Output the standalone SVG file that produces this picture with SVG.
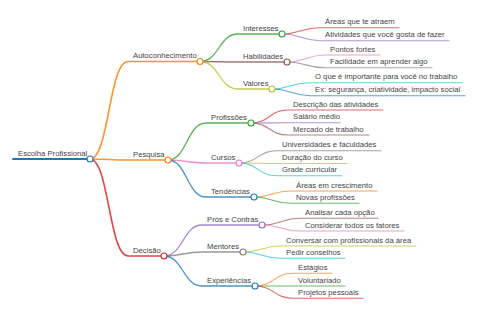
<svg xmlns="http://www.w3.org/2000/svg" width="480" height="320" viewBox="0 0 480 320">
<style>
text{font-family:"Liberation Sans",Arial,sans-serif;font-size:7.7px;fill:#444}
path{fill:none;stroke-linecap:round}
.l0{stroke-width:1.8}.l1{stroke-width:1.6;stroke-opacity:.85}.l2{stroke-width:1.3;stroke-opacity:.8}.l3{stroke-width:1.1;stroke-opacity:.7}
circle{fill:#fff;stroke-width:1.1}
.blue{stroke:#1f77b4}.orange{stroke:#ff7f0e}.green{stroke:#2ca02c}.red{stroke:#d62728}.purple{stroke:#9467bd}.brown{stroke:#8c564b}.pink{stroke:#e377c2}.gray{stroke:#7f7f7f}.olive{stroke:#bcbd22}.cyan{stroke:#17becf}
</style>
<rect width="480" height="320" fill="#fff"/>
<g id="connectors">
<path class="l0 blue" d="M13 159H90"/>
<path class="l1 orange" d="M90 159C109 159 109 61.5 128 61.5H200"/>
<path class="l1 orange" d="M90 159C109 159 109 160 128 160H168"/>
<path class="l1 red" d="M90 159C109 159 109 256 128 256H164"/>
<path class="l2 green" d="M200 61.5C219 61.5 219 34 238 34H282"/>
<path class="l2 brown" d="M200 61.5C219 61.5 219 62 238 62H287"/>
<path class="l2 olive" d="M200 61.5C219 61.5 219 89 238 89H272"/>
<path class="l2 green" d="M168 160C187 160 187 123 206 123H251"/>
<path class="l2 pink" d="M168 160C187 160 187 163 206 163H239"/>
<path class="l2 blue" d="M168 160C187 160 187 197 206 197H254"/>
<path class="l2 purple" d="M164 256C183 256 183 225 202 225H262"/>
<path class="l2 gray" d="M164 256C183 256 183 252 202 252H243"/>
<path class="l2 blue" d="M164 256C183 256 183 286 202 286H255"/>
<path class="l3 red" d="M282 34C301 34 301 27.7 320 27.7H399"/>
<path class="l3 purple" d="M282 34C301 34 301 40.7 320 40.7H449"/>
<path class="l3 pink" d="M287 62C306 62 306 55 325 55H380"/>
<path class="l3 gray" d="M287 62C306 62 306 67.7 325 67.7H432"/>
<path class="l3 cyan" d="M272 89C291 89 291 82.7 310 82.7H462"/>
<path class="l3 blue" d="M272 89C291 89 291 95.7 310 95.7H465"/>
<path class="l3 red" d="M251 123C269.5 123 269.5 110 288 110H383"/>
<path class="l3 purple" d="M251 123C269.5 123 269.5 122.7 288 122.7H340"/>
<path class="l3 brown" d="M251 123C269.5 123 269.5 135 288 135H369"/>
<path class="l3 gray" d="M239 163C258 163 258 150.7 277 150.7H381"/>
<path class="l3 olive" d="M239 163C258 163 258 163.5 277 163.5H347"/>
<path class="l3 cyan" d="M239 163C258 163 258 175.7 277 175.7H342"/>
<path class="l3 orange" d="M254 197C272.5 197 272.5 191 291 191H377"/>
<path class="l3 green" d="M254 197C272.5 197 272.5 203.3 291 203.3H359"/>
<path class="l3 brown" d="M262 225C281 225 281 218.3 300 218.3H378"/>
<path class="l3 pink" d="M262 225C281 225 281 231 300 231H404"/>
<path class="l3 olive" d="M243 252C262 252 262 246 281 246H416"/>
<path class="l3 cyan" d="M243 252C262 252 262 258.3 281 258.3H345"/>
<path class="l3 orange" d="M255 286C274 286 274 273.3 293 273.3H332"/>
<path class="l3 green" d="M255 286C274 286 274 286 293 286H345"/>
<path class="l3 red" d="M255 286C274 286 274 298.3 293 298.3H363"/>
</g>
<g id="root"><text x="18" y="155.5">Escolha Profissional</text><circle class="blue" cx="90" cy="159" r="3"/></g>
<g id="autoconhecimento"><text x="133" y="58">Autoconhecimento</text><circle class="orange" cx="200" cy="61.5" r="3"/></g>
<g id="pesquisa"><text x="133" y="156.5">Pesquisa</text><circle class="orange" cx="168" cy="160" r="3"/></g>
<g id="decisao"><text x="133" y="252.5">Decisão</text><circle class="red" cx="164" cy="256" r="3"/></g>
<g id="interesses"><text x="243" y="30.5">Interesses</text><circle class="green" cx="282" cy="34" r="3"/></g>
<g id="habilidades"><text x="243" y="58.5">Habilidades</text><circle class="brown" cx="287" cy="62" r="3"/></g>
<g id="valores"><text x="243" y="85.5">Valores</text><circle class="olive" cx="272" cy="89" r="3"/></g>
<g id="profissoes"><text x="211" y="119.5">Profissões</text><circle class="green" cx="251" cy="123" r="3"/></g>
<g id="cursos"><text x="211" y="159.5">Cursos</text><circle class="pink" cx="239" cy="163" r="3"/></g>
<g id="tendencias"><text x="211" y="193.5">Tendências</text><circle class="blue" cx="254" cy="197" r="3"/></g>
<g id="pros-contras"><text x="207" y="221.5">Prós e Contras</text><circle class="purple" cx="262" cy="225" r="3"/></g>
<g id="mentores"><text x="207" y="248.5">Mentores</text><circle class="gray" cx="243" cy="252" r="3"/></g>
<g id="experiencias"><text x="207" y="282.5">Experiências</text><circle class="blue" cx="255" cy="286" r="3"/></g>
<g id="areas-atraem"><text x="325" y="24.2">Áreas que te atraem</text></g>
<g id="atividades-gosta"><text x="325" y="37.2">Atividades que você gosta de fazer</text></g>
<g id="pontos-fortes"><text x="330" y="51.5">Pontos fortes</text></g>
<g id="facilidade"><text x="330" y="64.2">Facilidade em aprender algo</text></g>
<g id="importante"><text x="315" y="79.2">O que é importante para você no trabalho</text></g>
<g id="exemplos"><text x="315" y="92.2">Ex: segurança, criatividade, impacto social</text></g>
<g id="descricao"><text x="293" y="106.5">Descrição das atividades</text></g>
<g id="salario"><text x="293" y="119.2">Salário médio</text></g>
<g id="mercado"><text x="293" y="131.5">Mercado de trabalho</text></g>
<g id="universidades"><text x="282" y="147.2">Universidades e faculdades</text></g>
<g id="duracao"><text x="282" y="160">Duração do curso</text></g>
<g id="grade"><text x="282" y="172.2">Grade curricular</text></g>
<g id="areas-crescimento"><text x="296" y="187.5">Áreas em crescimento</text></g>
<g id="novas-profissoes"><text x="296" y="199.8">Novas profissões</text></g>
<g id="analisar"><text x="305" y="214.8">Analisar cada opção</text></g>
<g id="considerar"><text x="305" y="227.5">Considerar todos os fatores</text></g>
<g id="conversar"><text x="286" y="242.5">Conversar com profissionais da área</text></g>
<g id="pedir"><text x="286" y="254.8">Pedir conselhos</text></g>
<g id="estagios"><text x="298" y="269.8">Estágios</text></g>
<g id="voluntariado"><text x="298" y="282.5">Voluntariado</text></g>
<g id="projetos"><text x="298" y="294.8">Projetos pessoais</text></g>
</svg>
